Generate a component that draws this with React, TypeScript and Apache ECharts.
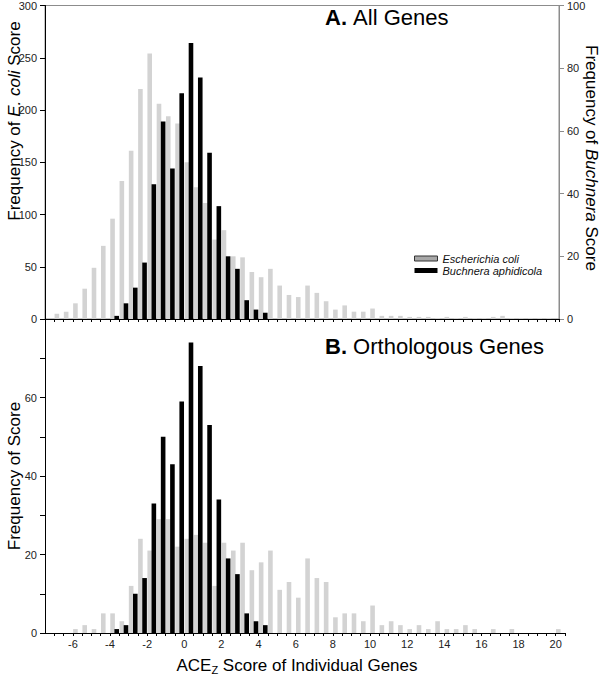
import React, { useEffect, useRef } from "react";
import * as echarts from "echarts";

// Histogram bins: 0.5 wide, from -7.5 to 20.5 (56 bins)
const BIN_START = -7.5;
const BIN_WIDTH = 0.5;
const binCenters: number[] = Array.from({ length: 56 }, (_, i) => BIN_START + BIN_WIDTH * (i + 0.5));

// A. All Genes
const allEcoli = [
  0, 5, 7, 15, 29, 49, 70, 96, 132, 161,
  220, 254, 206, 194, 187, 150, 126, 111, 76, 85,
  60, 59, 45, 40, 48, 32, 23, 21, 32, 25,
  17, 9, 13, 7, 7, 10, 3, 3, 3, 2,
  2, 2, 1, 2, 1, 2, 1, 1, 2, 3,
  1, 1, 1, 1, 1, 0,
];
const allBuchnera = [
  0, 0, 0, 0, 0, 0, 0, 1, 5, 10,
  18, 43, 63, 48, 72, 88, 77, 53, 36, 20,
  16, 6, 3, 2, 0, 0, 0, 0, 0, 0,
  0, 0, 0, 0, 0, 0, 0, 0, 0, 0,
  0, 0, 0, 0, 0, 0, 0, 0, 0, 0,
  0, 0, 0, 0, 0, 0,
];

// B. Orthologous Genes
const orthoEcoli = [
  0, 0, 0, 1, 2, 1, 5, 5, 3, 12,
  24, 21, 29, 29, 22, 24, 25, 23, 12, 23,
  21, 23, 16, 18, 21, 11, 13, 9, 19, 14,
  13, 4, 5, 5, 3, 7, 2, 3, 2, 1,
  2, 1, 3, 1, 1, 2, 1, 0, 1, 0,
  1, 0, 0, 0, 0, 1,
];
const orthoBuchnera = [
  0, 0, 0, 0, 0, 0, 0, 1, 2, 10,
  14, 33, 50, 43, 59, 74, 68, 53, 34, 19,
  15, 5, 3, 2, 0, 0, 0, 0, 0, 0,
  0, 0, 0, 0, 0, 0, 0, 0, 0, 0,
  0, 0, 0, 0, 0, 0, 0, 0, 0, 0,
  0, 0, 0, 0, 0, 0,
];

const xTickLabels = [-6, -4, -2, 0, 2, 4, 6, 8, 10, 12, 14, 16, 18, 20];
const orthoYLabels = [0, 20, 40, 60];

const SERIES_NAMES = ["Escherichia coli", "Buchnera aphidicola"];

const FONT = '"Liberation Sans", Arial, Helvetica, sans-serif';
const GRAY = "#d3d3d3";
const FRAME_GRAY = "#8c8c8c";

const pairs = (vals: number[]) =>
  vals.map((v, i) => [binCenters[i], v]).filter((p) => p[1] > 0);

export default function App() {
  const ref = useRef<HTMLDivElement>(null);

  useEffect(() => {
    if (!ref.current) return;
    const chart = echarts.init(ref.current, undefined, { renderer: "svg" });

    const labelStyle = { fontSize: 11, color: "#222", fontFamily: FONT };
    const barCommon = { type: "bar" as const, barWidth: 4.6, barGap: "-10%" };

    const option: any = {
      animation: false,
      textStyle: { fontFamily: FONT },
      grid: [
        {
          left: 45, top: 5, width: 514, height: 314,
          show: true, borderColor: FRAME_GRAY, borderWidth: 1, backgroundColor: "transparent",
        },
        { left: 45, top: 319, width: 520, height: 314 },
      ],
      legend: {
        left: 414,
        top: 253,
        orient: "vertical",
        itemWidth: 23,
        itemHeight: 5,
        itemGap: 1,
        padding: 0,
        icon: "rect",
        selectedMode: false,
        textStyle: { fontStyle: "italic", fontSize: 11, color: "#111", fontFamily: FONT },
        data: [
          { name: SERIES_NAMES[0], itemStyle: { color: "#a8a8a8", borderColor: "#333", borderWidth: 1 } },
          { name: SERIES_NAMES[1], itemStyle: { color: "#000" } },
        ],
      },
      xAxis: [
        {
          type: "value", gridIndex: 0, min: -7.5, max: 20.18, interval: 0.5,
          axisLine: { show: true, onZero: false, lineStyle: { color: "#000", width: 1 } },
          axisTick: { show: true, length: 3, lineStyle: { color: "#000" } },
          axisLabel: { show: false },
          splitLine: { show: false },
        },
        {
          type: "value", gridIndex: 1, min: -7.5, max: 20.5, interval: 0.5,
          axisLine: { show: true, onZero: false, lineStyle: { color: "#000", width: 1 } },
          axisTick: { show: true, length: 3, lineStyle: { color: "#000" } },
          axisLabel: {
            ...labelStyle,
            margin: 5,
            showMinLabel: false,
            showMaxLabel: true,
            formatter: (v: number) => (xTickLabels.some((t) => Math.abs(t - v) < 1e-6) ? String(v) : ""),
          },
          splitLine: { show: false },
        },
      ],
      yAxis: [
        {
          type: "value", gridIndex: 0, min: 0, max: 300, interval: 50,
          axisLine: { show: true, onZero: false, lineStyle: { color: "#000" } },
          axisTick: { show: true, length: 5, lineStyle: { color: "#000" } },
          axisLabel: { ...labelStyle, margin: 8 },
          splitLine: { show: false },
        },
        {
          type: "value", gridIndex: 0, position: "right", min: 0, max: 100, interval: 20,
          axisLine: { show: true, onZero: false, lineStyle: { color: FRAME_GRAY } },
          axisTick: { show: true, length: 5, lineStyle: { color: FRAME_GRAY } },
          axisLabel: { ...labelStyle, margin: 8 },
          splitLine: { show: false },
        },
        {
          type: "value", gridIndex: 1, min: 0, max: 80, interval: 10,
          axisLine: { show: true, onZero: false, lineStyle: { color: "#000" } },
          axisTick: { show: true, length: 5, lineStyle: { color: "#000" } },
          axisLabel: {
            ...labelStyle,
            margin: 8,
            formatter: (v: number) => (orthoYLabels.includes(v) ? String(v) : ""),
          },
          splitLine: { show: false },
        },
      ],
      series: [
        { ...barCommon, name: SERIES_NAMES[0], xAxisIndex: 0, yAxisIndex: 0, data: pairs(allEcoli), itemStyle: { color: GRAY } },
        { ...barCommon, name: SERIES_NAMES[1], xAxisIndex: 0, yAxisIndex: 1, data: pairs(allBuchnera), itemStyle: { color: "#000" } },
        { ...barCommon, name: SERIES_NAMES[0], xAxisIndex: 1, yAxisIndex: 2, data: pairs(orthoEcoli), itemStyle: { color: GRAY } },
        { ...barCommon, name: SERIES_NAMES[1], xAxisIndex: 1, yAxisIndex: 2, data: pairs(orthoBuchnera), itemStyle: { color: "#000" } },
      ],
      graphic: [
        {
          type: "text", x: 325, y: 17,
          style: {
            text: "{b|A.} {n|All Genes}",
            textAlign: "left", textVerticalAlign: "middle", align: "left", verticalAlign: "middle",
            rich: {
              b: { fontSize: 22, fontWeight: "bold", fontFamily: FONT, fill: "#000" },
              n: { fontSize: 22, fontFamily: FONT, fill: "#000" },
            },
            fontSize: 22, fontFamily: FONT,
          },
        },
        {
          type: "text", x: 325, y: 346,
          style: {
            text: "{b|B.} {n|Orthologous Genes}",
            textAlign: "left", textVerticalAlign: "middle", align: "left", verticalAlign: "middle",
            rich: {
              b: { fontSize: 22, fontWeight: "bold", fontFamily: FONT, fill: "#000" },
              n: { fontSize: 22, fontFamily: FONT, fill: "#000" },
            },
            fontSize: 22, fontFamily: FONT,
          },
        },
        {
          type: "text", x: 14, y: 121, rotation: Math.PI / 2,
          style: {
            text: "{n|Frequency of }{i|E. coli}{n| Score}",
            textAlign: "center", textVerticalAlign: "middle", align: "center", verticalAlign: "middle",
            rich: {
              n: { fontSize: 17, fontFamily: FONT, fill: "#000" },
              i: { fontSize: 17, fontFamily: FONT, fontStyle: "italic", fill: "#000" },
            },
            fontSize: 17, fontFamily: FONT,
          },
        },
        {
          type: "text", x: 591, y: 158, rotation: -Math.PI / 2,
          style: {
            text: "{n|Frequency of }{i|Buchnera}{n| Score}",
            textAlign: "center", textVerticalAlign: "middle", align: "center", verticalAlign: "middle",
            rich: {
              n: { fontSize: 17, fontFamily: FONT, fill: "#000" },
              i: { fontSize: 17, fontFamily: FONT, fontStyle: "italic", fill: "#000" },
            },
            fontSize: 17, fontFamily: FONT,
          },
        },
        {
          type: "text", x: 14, y: 476, rotation: Math.PI / 2,
          style: {
            text: "Frequency of Score",
            textAlign: "center", textVerticalAlign: "middle", align: "center", verticalAlign: "middle",
            fontSize: 17, fontFamily: FONT, fill: "#000",
          },
        },
        {
          type: "text", x: 297, y: 665,
          style: {
            text: "{m|ACE}{s|Z}{m| Score of Individual Genes}",
            textAlign: "center", textVerticalAlign: "middle", align: "center", verticalAlign: "middle",
            rich: {
              m: { fontSize: 17, lineHeight: 20, fontFamily: FONT, fill: "#000" },
              s: { fontSize: 11, lineHeight: 11, verticalAlign: "bottom", fontFamily: FONT, fill: "#000" },
            },
            fontSize: 17, fontFamily: FONT,
          },
        },
      ],
    };

    chart.setOption(option);
    return () => chart.dispose();
  }, []);

  return (
    <div
      ref={ref}
      style={{ position: "fixed", left: 0, top: 0, width: 600, height: 677, background: "#fff" }}
    />
  );
}
